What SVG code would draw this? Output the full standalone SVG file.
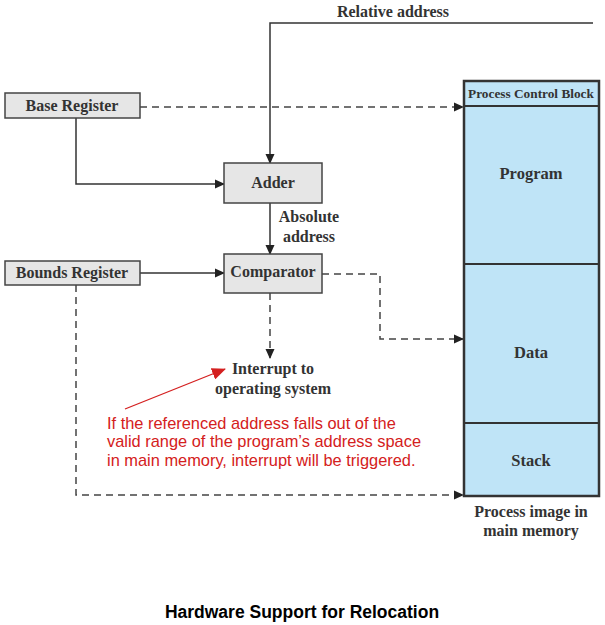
<svg xmlns="http://www.w3.org/2000/svg" width="605" height="625" viewBox="0 0 605 625">
<style>
.box{fill:#e6e6e6;stroke:#444;stroke-width:1.5}
.mem{fill:#bfe4f7;stroke:#333;stroke-width:2.5}
.lbl{font-family:"Liberation Serif",serif;font-weight:bold;font-size:16px;fill:#333;text-anchor:middle}
.ln{fill:none;stroke:#333;stroke-width:1.5}
.dash{fill:none;stroke:#444;stroke-width:1.5;stroke-dasharray:7,5}
.note{font-family:"Liberation Sans",Arial,sans-serif;font-size:16.4px;fill:#d42020}
</style>
<defs>
<marker id="ah" markerWidth="10" markerHeight="10" refX="9" refY="5" orient="auto" markerUnits="userSpaceOnUse">
<path d="M0,0.5 L10,5 L0,9.5 z" fill="#222"/>
</marker>
<marker id="ahr" markerWidth="14" markerHeight="12" refX="13" refY="6" orient="auto" markerUnits="userSpaceOnUse">
<path d="M0,0 L14,6 L0,12 z" fill="#d42020"/>
</marker>
</defs>
<g id="connectors">
<path class="ln" d="M593,23 H270 V163" marker-end="url(#ah)"/>
<path class="dash" d="M140,107 H463" marker-end="url(#ah)"/>
<path class="ln" d="M76,118 V184 H224" marker-end="url(#ah)"/>
<path class="ln" d="M270,203 V254" marker-end="url(#ah)"/>
<path class="ln" d="M140,273 H224" marker-end="url(#ah)"/>
<path class="dash" d="M322,274 H380 V339 H463" marker-end="url(#ah)"/>
<path class="dash" d="M270,293 V358" marker-end="url(#ah)"/>
<path class="dash" d="M76,285 V495 H463" marker-end="url(#ah)"/>
<path d="M125,409 L225,369" stroke="#d42020" stroke-width="1.2" fill="none" marker-end="url(#ahr)"/>
</g>
<g id="relative-address"><text class="lbl" x="393" y="17">Relative address</text></g>
<g id="base-register"><rect class="box" x="5" y="93" width="135" height="25"/><text class="lbl" x="72" y="111">Base Register</text></g>
<g id="adder"><rect class="box" x="224" y="163" width="98" height="40"/><text class="lbl" x="273" y="188">Adder</text></g>
<g id="absolute-address"><text class="lbl" x="309" y="222">Absolute</text><text class="lbl" x="309" y="242">address</text></g>
<g id="bounds-register"><rect class="box" x="5" y="261" width="135" height="24"/><text class="lbl" x="72" y="278">Bounds Register</text></g>
<g id="comparator"><rect class="box" x="224" y="254" width="98" height="39"/><text class="lbl" x="273" y="277">Comparator</text></g>
<g id="interrupt"><text class="lbl" x="273" y="374">Interrupt to</text><text class="lbl" x="273" y="394">operating system</text></g>
<g id="note">
<text class="note" x="107" y="429">If the referenced address falls out of the</text>
<text class="note" x="107" y="447">valid range of the program’s address space</text>
<text class="note" x="107" y="466">in main memory, interrupt will be triggered.</text>
</g>
<g id="process-image">
<rect class="mem" x="464" y="81" width="135" height="415"/>
<line x1="464" y1="106" x2="599" y2="106" stroke="#333" stroke-width="2"/>
<line x1="464" y1="264" x2="599" y2="264" stroke="#333" stroke-width="2"/>
<line x1="464" y1="423" x2="599" y2="423" stroke="#333" stroke-width="2"/>
<text class="lbl" x="531" y="98" style="font-size:13.3px">Process Control Block</text>
<text class="lbl" x="531" y="179" style="font-size:16.5px">Program</text>
<text class="lbl" x="531" y="358" style="font-size:16.5px">Data</text>
<text class="lbl" x="531" y="466" style="font-size:16.5px">Stack</text>
<text class="lbl" x="531" y="517">Process image in</text>
<text class="lbl" x="531" y="536">main memory</text>
</g>
<g id="title"><text x="302" y="618" style="font-family:'Liberation Sans',Arial,sans-serif;font-weight:bold;font-size:17.5px;fill:#000;text-anchor:middle">Hardware Support for Relocation</text></g>
</svg>
